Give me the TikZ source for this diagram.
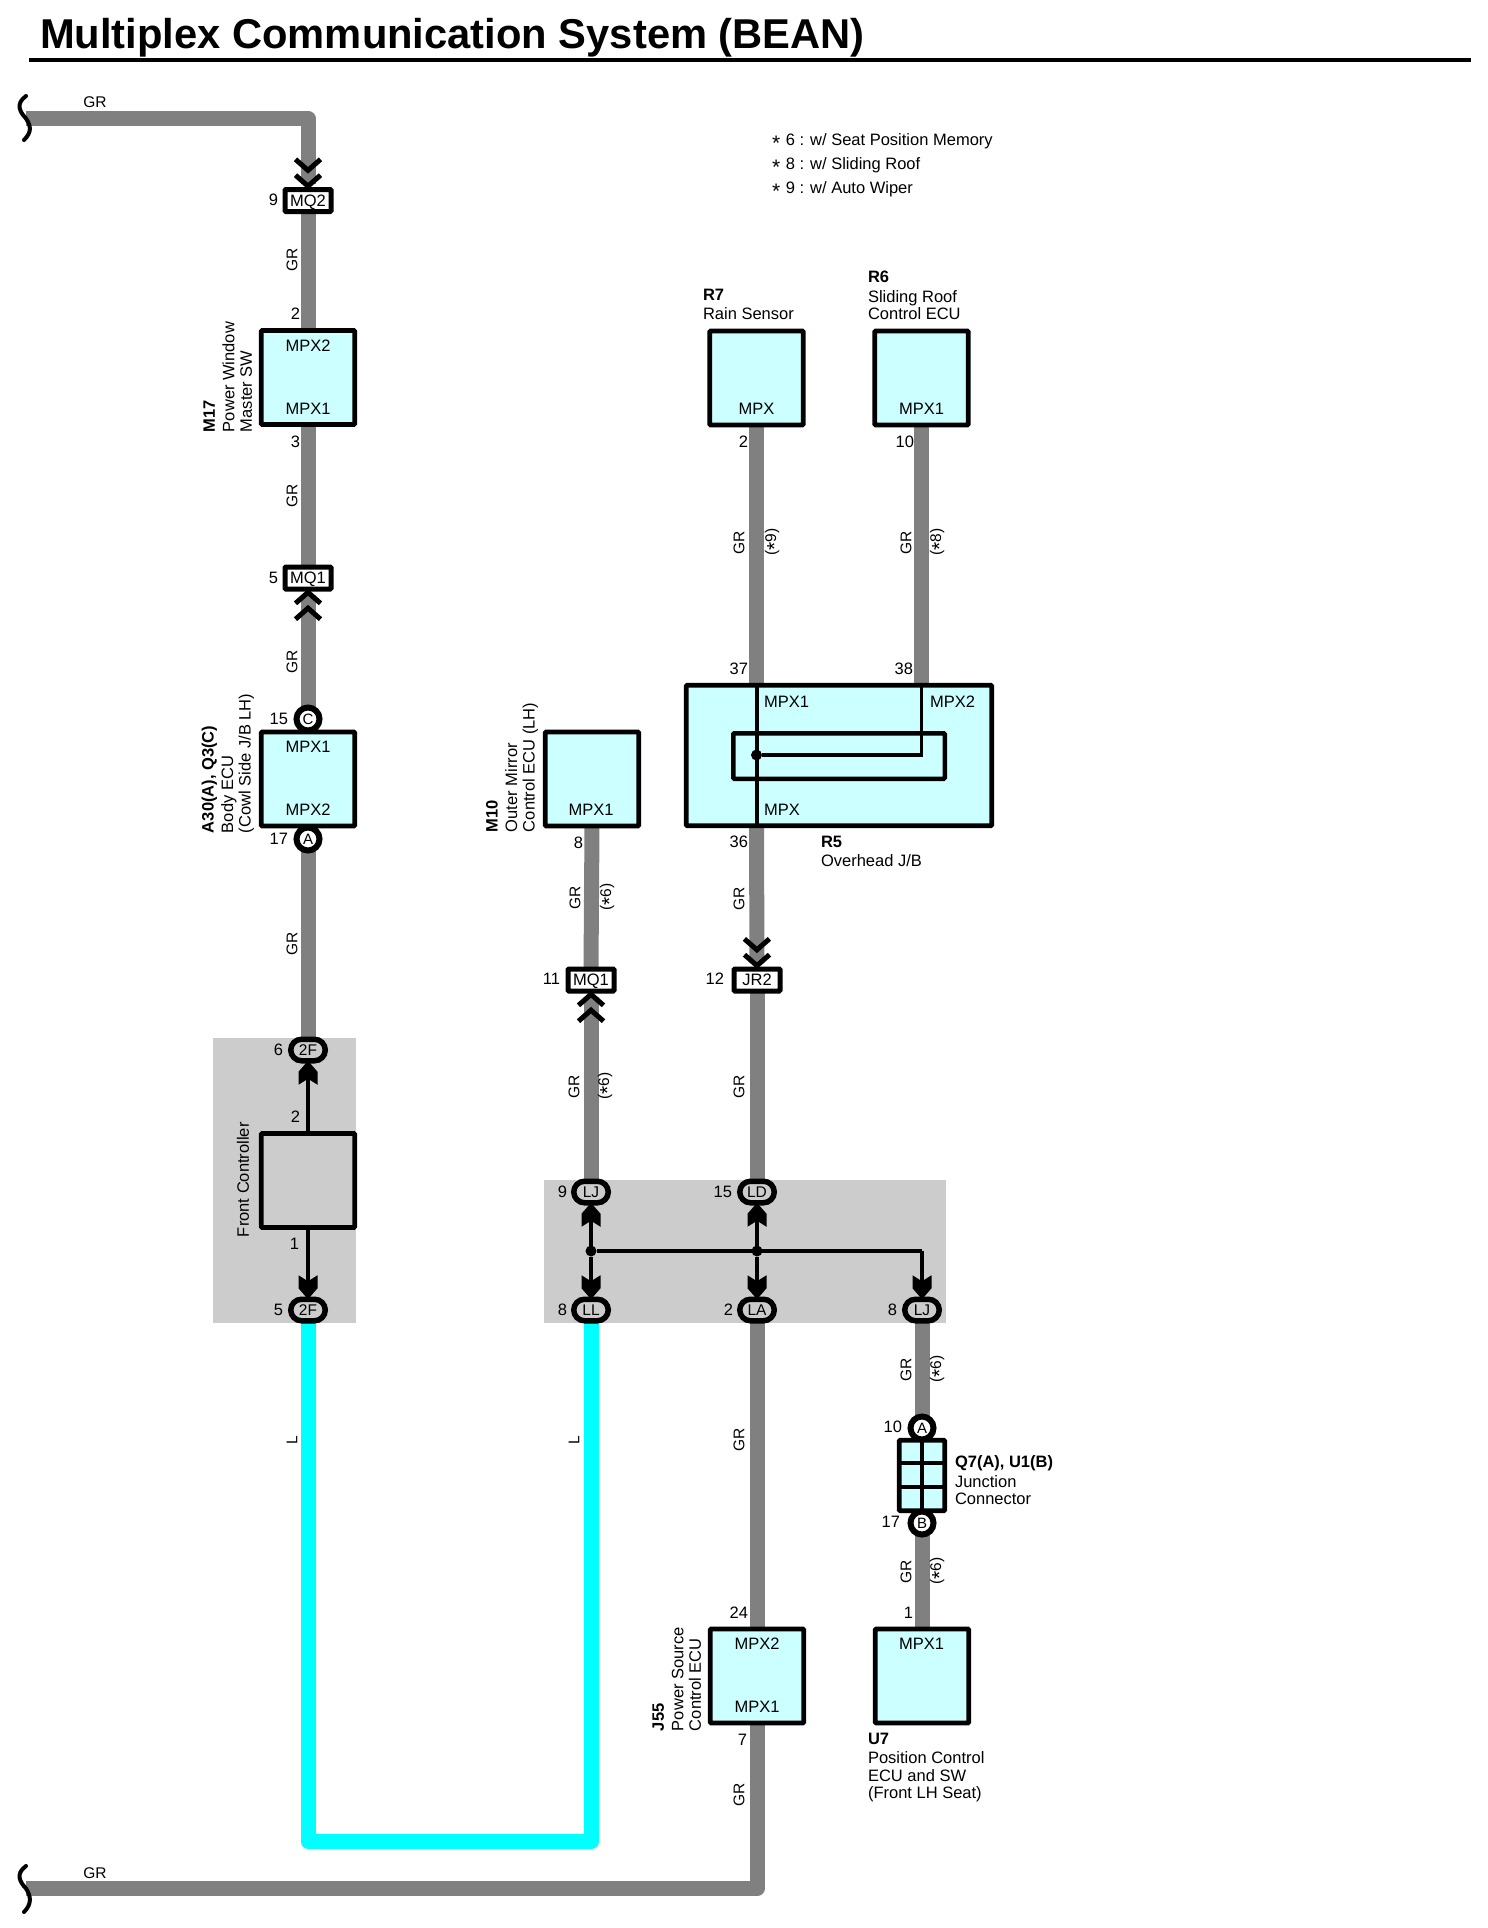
\documentclass[tikz,border=0pt]{standalone}
\usepackage{fontspec}
\setmainfont{Liberation Sans}
\usetikzlibrary{arrows.meta, backgrounds, shapes.misc}
\definecolor{wiregr}{HTML}{808080}
\definecolor{wirel}{HTML}{00FFFF}
\definecolor{ecufill}{HTML}{CCFFFF}
\definecolor{zonefill}{HTML}{CCCCCC}
\newcommand{\aster}{\raisebox{-5.5pt}[0pt][0pt]{\fontsize{21}{21}\selectfont *}}
\pgfdeclarearrow{
	name=Wedge,
	setup code={
		\pgfarrowssettipend{0pt}
		\pgfarrowssetlineend{-18pt}
		\pgfarrowssetbackend{-24pt}
		\pgfarrowssetvisualbackend{-24pt}
	},
	drawing code={
		\pgfpathmoveto{\pgfqpoint{0pt}{0pt}}
		\pgfpathlineto{\pgfqpoint{-11pt}{9.5pt}}
		\pgfpathlineto{\pgfqpoint{-24pt}{9.5pt}}
		\pgfpathlineto{\pgfqpoint{-18pt}{0pt}}
		\pgfpathlineto{\pgfqpoint{-24pt}{-9.5pt}}
		\pgfpathlineto{\pgfqpoint{-11pt}{-9.5pt}}
		\pgfpathclose
		\pgfusepathqfill
	}
}
\tikzset{
	x=1pt, y=-1pt,
	every node/.style={inner sep=0pt, outer sep=0pt, font=\fontsize{16.5}{17.5}\selectfont},
	ecu/.style={
		draw,
		line width=4.7pt,
		fill=ecufill,
		rounded corners=1pt,
		minimum width=93.5pt,
		minimum height=94pt
	},
	connbox/.style={
		draw,
		line width=5pt,
		fill=white,
		rounded corners=1pt,
		text depth=0pt,
		minimum width=46pt,
		minimum height=22pt
	},
	conncirc/.style={
		draw,
		circle,
		line width=6pt,
		fill=white,
		font=\fontsize{15}{17}\selectfont,
		minimum size=23pt
	},
	conncaps/.style={
		draw,
		rounded rectangle,
		line width=5.5pt,
		fill=zonefill,
		font=\fontsize{15.5}{17}\selectfont,
		minimum width=34.5pt,
		minimum height=21.5pt
	},
	splice/.style={
		circle,
		fill=black,
		minimum size=11pt
	},
	wire/.style={line width=15pt, line join=round, color=wiregr},
	wirecy/.style={line width=15pt, line join=round, color=wirel},
	signal/.style={line width=4pt, line join=miter, color=black},
	dblchev/.style={-{Straight Barb[black,length=11pt,width=25pt,line width=5pt,sep=-1pt] Straight Barb[black,length=11pt,width=25pt,line width=5pt]}},
	wedge/.style={-{Wedge}},
	side/.style={rotate=90, anchor=south west, align=left},
	plain/.style={anchor=north west, align=left},
	pin/.style={anchor=east},
	tag/.style={rotate=90, font=\fontsize{15.5}{17}\selectfont}
}

\begin{document}
\begin{tikzpicture}
	\useasboundingbox (0,0) rectangle (1488,1928);

	% title
	\node[anchor=west, font=\bfseries\fontsize{41.7}{44}\selectfont] (title) at (40,38) {Multiplex Communication System (BEAN)};
	\coordinate (ruleA) at (29,60);
	\coordinate (ruleB) at (1471,60);
	\draw[line width=4.5pt] (ruleA) -- (ruleB);

	% notes
	\node[anchor=west] (noteA) at (772,141) {\aster\hspace{1pt} 6 : w/ Seat Position Memory};
	\node[anchor=west] (noteB) at (772,165) {\aster\hspace{1pt} 8 : w/ Sliding Roof};
	\node[anchor=west] (noteC) at (772,189) {\aster\hspace{1pt} 9 : w/ Auto Wiper};

	% boxes
	\node[ecu] (m17) at (308,377.5) {};
	\node[ecu] (a30) at (308,779) {};
	\node[ecu] (m10) at (592,779) {};
	\node[ecu] (r7) at (756.5,378) {};
	\node[ecu] (r6) at (921.5,378) {};
	\node[ecu] (j55) at (757,1676) {};
	\node[ecu] (u7) at (922,1676) {};
	\node[ecu, minimum width=305.5pt, minimum height=140.5pt] (r5) at (839,755.5) {};
	\node[draw, line width=4.5pt, rounded corners=1pt, minimum width=211.5pt, minimum height=45.5pt] (r5in) at (839,756) {};
	\node[ecu, fill=zonefill] (fc) at (308,1180.5) {};
	\node[ecu, minimum width=45.5pt, minimum height=70.5pt] (jc) at (922,1475.5) {};

	% pin names inside the boxes
	\foreach \px/\py/\pname [count=\i] in {308/346/MPX2, 308/409/MPX1, 308/747/MPX1, 308/810/MPX2, 591/810/MPX1,
		756.5/409/MPX, 921.5/409/MPX1, 757/1644/MPX2, 757/1707/MPX1, 921.5/1644/MPX1} {
		\node (mpx\i) at (\px,\py) {\pname};
	}
	\node[anchor=west] (r5a) at (764,702) {MPX1};
	\node[anchor=west] (r5b) at (930,702) {MPX2};
	\node[anchor=west] (r5c) at (764,810) {MPX};

	% connectors
	\node[connbox] (mq2) at (308,200.5) {MQ2};
	\node[connbox] (mq1) at (308,578) {MQ1};
	\node[connbox] (mq1b) at (591,980) {MQ1};
	\node[connbox] (jr2) at (757,980) {JR2};
	\node[conncirc] (cc) at (308,719) {C};
	\node[conncirc] (ca) at (308,839) {A};
	\node[conncirc] (ua) at (922,1428) {A};
	\node[conncirc] (ub) at (922,1523) {B};
	\node[conncaps] (fa) at (308,1050) {2F};
	\node[conncaps] (fb) at (308,1310) {2F};
	\node[conncaps] (lj) at (591,1192) {LJ};
	\node[conncaps] (ld) at (757,1192) {LD};
	\node[conncaps] (ll) at (591,1310) {LL};
	\node[conncaps] (la) at (757,1310) {LA};
	\node[conncaps] (ljb) at (922,1310) {LJ};
	\node[splice] (spa) at (591,1251) {};
	\node[splice] (spb) at (757,1251) {};
	\node[splice] (spc) at (756.5,755) {};

	% free ends and bends
	\coordinate (brkA) at (26,118.5);
	\coordinate (brkB) at (26,1888.5);
	\coordinate (lbot) at (450,1841.5);
	\coordinate (sprt) at (922,1251);
	\coordinate (p37) at (756.5,685.5);
	\coordinate (p36) at (756.5,825.5);
	\coordinate (p38) at (921.5,685.5);
	\coordinate (pcor) at (921.5,755);

	\begin{scope}[on background layer]
		% gray zones
		\fill[zonefill] (213,1038) rectangle (356,1323);
		\fill[zonefill] (544,1180) rectangle (946,1323);

		% wires
		\draw[wire, dblchev] (brkA) -| (mq2.north);
		\draw[wire] (mq2.south) -- (m17.north);
		\draw[wire] (m17.south) -- (mq1.north);
		\draw[wire, dblchev] (cc.north) -- (mq1.south);
		\draw[wire] (ca.south) -- (fa.north);
		\draw[wire] (m10.south) -- (mq1b.north);
		\draw[wire, dblchev] (lj.north) -- (mq1b.south);
		\draw[wire] (r7.south) -- (p37);
		\draw[wire] (r6.south) -- (p38);
		\draw[wire, dblchev] (p36) -- (jr2.north);
		\draw[wire] (jr2.south) -- (ld.north);
		\draw[wire] (la.south) -- (j55.north);
		\draw[wire] (ljb.south) -- (ua.north);
		\draw[wire] (ub.south) -- (u7.north);
		\draw[wire] (j55.south) |- (brkB);
		\draw[wirecy] (fb.south) |- (lbot) -| (ll.south);

		% signal lines
		\draw[signal, wedge] (fc.north) -- (fa.south);
		\draw[signal, wedge] (fc.south) -- (fb.north);
		\draw[signal, wedge] (spa) -- (lj.south);
		\draw[signal, wedge] (spa) -- (ll.north);
		\draw[signal, wedge] (spb) -- (ld.south);
		\draw[signal, wedge] (spb) -- (la.north);
		\draw[signal] (spa) -- (sprt);
		\draw[signal, wedge] (sprt) -- (ljb.north);
	\end{scope}

	% inside R5
	\draw[signal] (p37) -- (p36);
	\draw[signal, line width=3.5pt] (p38) -- (pcor) -- (spc);

	% inside the junction connector
	\draw[line width=4pt] (jc.north) -- (jc.south);
	\coordinate (jcA) at (899,1463);
	\coordinate (jcB) at (945,1463);
	\coordinate (jcC) at (899,1487);
	\coordinate (jcD) at (945,1487);
	\draw[line width=4pt] (jcA) -- (jcB);
	\draw[line width=4pt] (jcC) -- (jcD);

	% break marks
	\draw[line width=4pt, line cap=round] (26,96) .. controls (15,104) and (20,112) .. (brkA) .. controls (31,126) and (32,132) .. (24,140);
	\draw[line width=4pt, line cap=round] (26,1866) .. controls (15,1874) and (20,1882) .. (brkB) .. controls (31,1896) and (32,1904) .. (24,1912);

	% wire colours
	\node (grA) at (95,102) {\fontsize{15.5}{17}\selectfont GR};
	\node (grB) at (95,1873) {\fontsize{15.5}{17}\selectfont GR};
	\foreach \tx/\ty [count=\i] in {292/260, 292/496, 292/662, 292/944, 739/543, 906/543, 575/898, 574/1087,
		739/899, 739/1087, 739/1440, 906/1370, 906/1572, 739/1795} {
		\node[tag] (gr\i) at (\tx,\ty) {GR};
	}
	\node[tag] (lA) at (292,1440) {L};
	\node[tag] (lB) at (574,1440) {L};
	\foreach \tx/\ty/\tn [count=\i] in {772/542/9, 937/542/8, 607/897/6, 605/1086/6, 937/1369/6, 937/1571/6} {
		\node[tag] (opt\i) at (\tx,\ty) {(\aster\tn)};
	}

	% pin numbers
	\foreach \tx/\ty/\tn [count=\i] in {278/200/9, 300/314/2, 300/442/3, 278/578/5, 288/719/15, 288/839/17,
		283/1050/6, 300/1117/2, 299/1244/1, 283/1310/5, 583/843/8, 560/979/11, 567/1192/9, 567/1310/8,
		748/442/2, 914/442/10, 748/669/37, 913/669/38, 748/842/36, 724/979/12, 732/1192/15, 733/1310/2,
		897/1310/8, 902/1427/10, 900/1522/17, 748/1613/24, 913/1613/1, 747/1740/7} {
		\node[pin] (pin\i) at (\tx,\ty) {\tn};
	}

	% part names
	\node[side] (m17name) at (252,432) {\textbf{M17}\\[2pt]Power Window\\Master SW};
	\node[side] (a30name) at (254,833) {\textbf{A30(A), Q3(C)}\\[2pt]Body ECU\\(Cowl Side J/B LH)};
	\node[side] (m10name) at (538,832) {\textbf{M10}\\[2pt]Outer Mirror\\Control ECU (LH)};
	\node[side] (j55name) at (701,1731) {\textbf{J55}\\[2pt]Power Source\\Control ECU};
	\node[side] (fcname) at (249,1237) {Front Controller};
	\node[plain] (r7name) at (703,289) {\textbf{R7}\\[2pt]Rain Sensor};
	\node[plain] (r6name) at (868,271) {\textbf{R6}\\[2pt]Sliding Roof\\Control ECU};
	\node[plain] (r5name) at (821,836) {\textbf{R5}\\[2pt]Overhead J/B};
	\node[plain] (u7name) at (868,1733) {\textbf{U7}\\[2pt]Position Control\\ECU and SW\\(Front LH Seat)};
	\node[plain] (q7name) at (955,1456) {\textbf{Q7(A), U1(B)}\\[2pt]Junction\\Connector};
\end{tikzpicture}
\end{document}
